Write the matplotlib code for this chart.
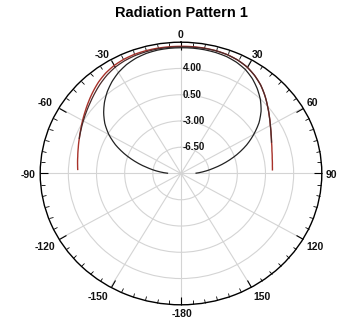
import numpy as np
import matplotlib
matplotlib.use("Agg")
import matplotlib.pyplot as plt
from matplotlib import transforms
from matplotlib.path import Path
from matplotlib.patches import PathPatch

plt.rcParams['font.family'] = ['Liberation Sans', 'DejaVu Sans']

title = "Radiation Pattern 1"
r_min, r_max = -10.0, 7.5
r_ticks = [-6.5, -3.0, 0.5, 4.0]
r_tick_labels = ["-6.50", "-3.00", "0.50", "4.00"]
theta_tick_deg = [0, 30, 60, 90, 120, 150, 180, 210, 240, 270, 300, 330]
theta_tick_labels = ["0", "30", "60", "90", "120", "150", "-180",
                     "-150", "-120", "-90", "-60", "-30"]
# pixel offsets (x right, y up) of each angle label from its point on the ring (style only)
theta_label_offsets = [(0, 7), (6, 5), (9, 5), (10, -1.5), (12, -8), (10.6, -10),
                       (1, -9.5), (-12.8, -10), (-14, -7.5), (-12, -1.5), (-14, 5), (-9, 5)]

# outer red trace (angle in degrees, level in dB)
red_theta = [-88, -85, -80, -75, -70, -65, -60, -55, -50, -45, -40, -35, -30, -25, -20,
             -15, -10, -5, 0, 5, 10, 15, 20, 25, 30, 35, 40, 45, 50, 55, 60, 65, 70,
             75, 80, 85, 88]
red_db = [2.84, 2.90, 3.03, 3.22, 3.46, 3.76, 4.12, 4.52, 4.97, 5.45, 5.93, 6.33, 6.62,
          6.80, 6.90, 6.94, 6.95, 6.95, 6.95, 6.96, 6.96, 6.93, 6.85, 6.68, 6.40, 5.95,
          5.40, 4.73, 4.03, 3.39, 2.82, 2.35, 1.98, 1.70, 1.51, 1.40, 1.37]

# dark trace lying close to the red one
dark_theta = [-70, -65, -60, -55, -50, -45, -40, -35, -30, -25, -20, -15, -10, -5, 0,
              5, 10, 15, 20, 25, 30, 35, 40, 45, 50, 55, 60, 65, 70]
dark_db = [3.46, 3.72, 4.02, 4.35, 4.72, 5.15, 5.60, 6.02, 6.36, 6.58, 6.72, 6.80, 6.85,
           6.87, 6.88, 6.90, 6.93, 6.92, 6.85, 6.68, 6.40, 5.95, 5.40, 4.73, 4.03, 3.39,
           2.82, 2.35, 1.98]

# inner black loop
black_theta = [-89, -85, -80, -75, -70, -65, -60, -55, -50, -45, -40, -35, -30, -25, -20,
               -15, -10, -5, 0, 5, 10, 15, 20, 25, 30, 35, 40, 45, 50, 55, 60, 65, 70,
               75, 80, 85, 89]
black_db = [-8.4, -7.3, -5.9, -4.3, -2.65, -1.05, 0.35, 1.55, 2.55, 3.45, 4.25, 4.95, 5.55,
            6.02, 6.36, 6.58, 6.70, 6.75, 6.76, 6.77, 6.75, 6.69, 6.58, 6.35, 6.00, 5.45,
            4.75, 3.95, 3.00, 1.85, 0.45, -1.0, -2.6, -4.25, -5.85, -7.2, -8.2]

W, H = 364, 327
fig = plt.figure(figsize=(W / 100, H / 100), dpi=100)
fig.patch.set_facecolor("white")
ax = fig.add_axes([40.2 / W, 22.2 / H, 281.6 / W, 262.6 / H], projection="polar")
ax.set_aspect("auto")
ax.set_theta_zero_location("N")
ax.set_theta_direction(-1)
ax.set_ylim(r_min, r_max)


def trace(theta_deg, db, color, lw, z):
    # a path in (theta, r) data space; the polar transform curves each segment
    verts = np.column_stack([np.deg2rad(theta_deg), db])
    p = Path(verts, _interpolation_steps=24)
    ax.add_patch(PathPatch(p, fill=False, edgecolor=color, lw=lw, zorder=z,
                           joinstyle="round", capstyle="butt"))


trace(red_theta, red_db, "#a8322a", 1.0, 3)
trace(dark_theta, dark_db, "#4a2a2a", 0.9, 4)
trace(black_theta, black_db, "#222222", 0.9, 4)

ax.set_xticks(np.deg2rad(theta_tick_deg))
ax.set_xticklabels([""] * len(theta_tick_deg))
ax.set_xticks(np.deg2rad(np.arange(0, 360, 5)), minor=True)
ax.tick_params(axis="x", which="both", bottom=False, top=True)
ax.tick_params(axis="x", which="major", direction="in", length=5.5, width=0.8,
               color="black")
ax.tick_params(axis="x", which="minor", direction="in", length=3, width=0.6,
               color="black")

for deg, lab, (dx, dy) in zip(theta_tick_deg, theta_tick_labels, theta_label_offsets):
    tr = transforms.offset_copy(ax.transData, fig=fig, x=dx * 0.72, y=dy * 0.72,
                                units="points")
    ax.text(np.deg2rad(deg), r_max, lab, transform=tr, ha="center", va="center",
            fontsize=7.5, fontweight="bold", color="#111111", clip_on=False)

ax.set_yticks(r_ticks)
ax.set_yticklabels([])
off = transforms.offset_copy(ax.transData, fig=fig, x=1.0, y=0, units="points")
for v, lab in zip(r_ticks, r_tick_labels):
    ax.text(0, v, lab, transform=off, ha="left", va="center",
            fontsize=7, fontweight="bold", color="#111111", zorder=5)

ax.grid(True, which="major", color="#d4d4d4", lw=0.8)
ax.spines["polar"].set_color("black")
ax.spines["polar"].set_linewidth(1.0)

fig.text(181 / W, 1 - 13 / H, title, ha="center", va="center",
         fontsize=10.5, fontweight="bold")

fig.savefig("out.png", dpi=100, facecolor="white")
